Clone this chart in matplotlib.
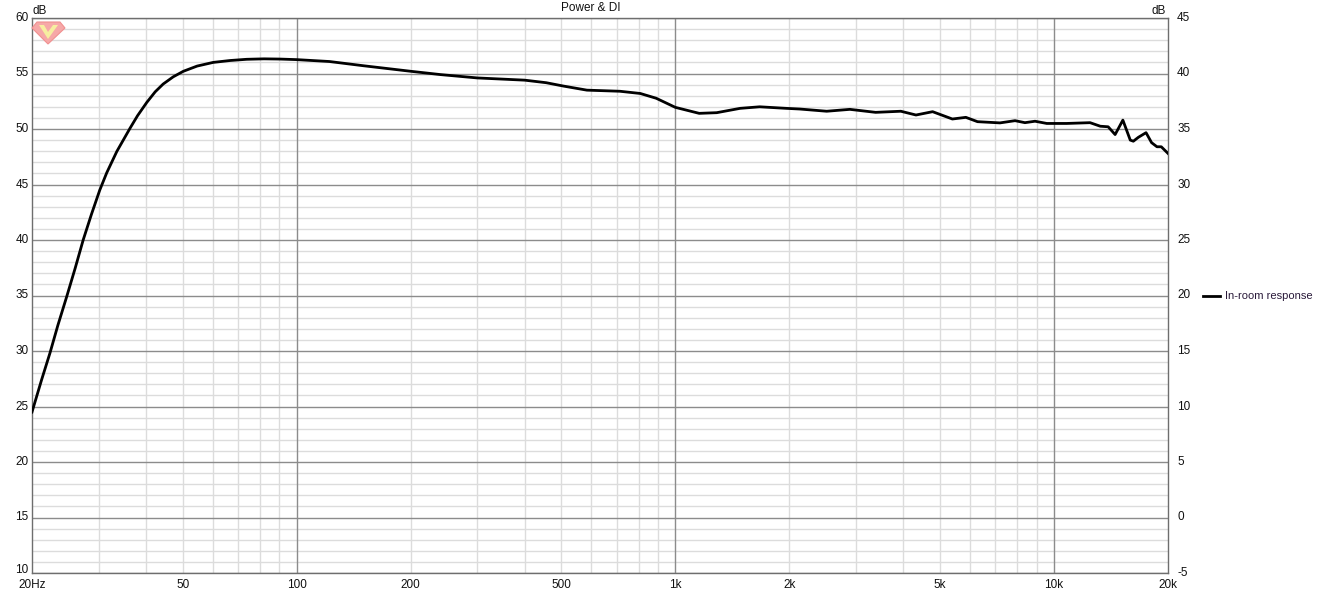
import matplotlib
matplotlib.use("Agg")
import matplotlib.pyplot as plt
from matplotlib.patches import Polygon
from matplotlib.ticker import FixedLocator, NullFormatter

# ── Data (in-room response, dB) ───────────────────────────────────────────────
freq_hz = [20.0, 21.2, 22.3, 23.4, 24.7, 26.0, 27.3, 28.7, 30.2, 31.5, 33.5,
           36.3, 38.0, 40.2, 42.3, 44.4, 47.2, 50.2, 54.6, 60.2, 66.7, 73.8,
           82, 90.4, 100, 122, 150, 200, 240, 300, 400, 456, 506, 584, 714,
           808, 890, 1000, 1156, 1286, 1482, 1670, 1964, 2130, 2510, 2890,
           3380, 3940, 4320, 4780, 5390, 5850, 6280, 7200, 7890, 8380, 8910,
           9570, 10800, 12450, 13250, 13900, 14500, 15200, 15900, 16200,
           16700, 17500, 18100, 18700, 19200, 20000]
in_room_db = [24.5, 27.4, 29.8, 32.3, 34.9, 37.45, 40.0, 42.3, 44.5, 46.05, 47.98,
              50.07, 51.2, 52.4, 53.35, 54.05, 54.7, 55.2, 55.67, 56.0, 56.17, 56.28,
              56.32, 56.3, 56.25, 56.08, 55.7, 55.2, 54.9, 54.6, 54.4, 54.17, 53.87, 53.5, 53.4,
              53.2, 52.77, 51.95, 51.41, 51.47, 51.86, 52.0, 51.86, 51.8, 51.6, 51.77,
              51.5, 51.6, 51.26, 51.56, 50.9, 51.05, 50.66, 50.55, 50.75, 50.57, 50.7,
              50.5, 50.5, 50.57, 50.25, 50.2, 49.5, 50.8, 49.0, 48.9,
              49.25, 49.67, 48.77, 48.4, 48.4, 47.8]

x_major = [100, 1000, 10000]
x_minor = [30, 40, 50, 60, 70, 80, 90, 200, 300, 400, 500, 600, 700, 800, 900,
           2000, 3000, 4000, 5000, 6000, 7000, 8000, 9000]
x_label_pos = [20, 50, 100, 200, 500, 1000, 2000, 5000, 10000, 20000]
x_label_txt = ["20Hz", "50", "100", "200", "500", "1k", "2k", "5k", "10k", "20k"]
left_ticks = [10, 15, 20, 25, 30, 35, 40, 45, 50, 55, 60]
right_offset = 15  # right axis = left - 15

W, H = 1320, 592
fig = plt.figure(figsize=(W / 100, H / 100), dpi=100)
ax = fig.add_axes([32 / W, 1 - 573 / H, (1168 - 32) / W, (573 - 18) / H])

ax.set_xscale("log")
ax.set_xlim(20, 20000)
ax.set_ylim(10, 60)

# grid, drawn by hand so major/minor shades match
for v in range(10, 61):
    if v % 5:
        ax.axhline(v, color="#dcdcdc", lw=1.0, zorder=0)
for v in left_ticks:
    ax.axhline(v, color="#8c8c8c", lw=1.0, zorder=1)
for f in x_minor:
    ax.axvline(f, color="#dcdcdc", lw=1.0, zorder=0)
for f in x_major:
    ax.axvline(f, color="#8c8c8c", lw=1.0, zorder=1)

ax.plot(freq_hz, in_room_db, color="black", lw=2.0, zorder=3,
        solid_joinstyle="round")

for s in ax.spines.values():
    s.set_color("#6e6e6e")
    s.set_linewidth(1.0)

ax.tick_params(length=0)
ax.xaxis.set_major_locator(FixedLocator([]))
ax.xaxis.set_minor_locator(FixedLocator([]))
ax.xaxis.set_minor_formatter(NullFormatter())
ax.set_yticks([])

font = dict(family="Liberation Sans", fontsize=8.5, color="#111111")
trans_x = ax.get_xaxis_transform()
for f, t in zip(x_label_pos, x_label_txt):
    ax.text(f, -0.011, t, transform=trans_x, ha="center", va="top", **font)

trans_y = ax.get_yaxis_transform()
for v in left_ticks:
    ax.text(-0.003, v + (0.25 if v == 10 else 0), str(v), transform=trans_y,
            ha="right", va="center", **font)
    ax.text(1.008, v, str(v - right_offset), transform=trans_y, ha="left",
            va="center", **font)

fig.text(40 / W, 1 - 11 / H, "dB", ha="center", va="center", **font)
fig.text(1159 / W, 1 - 11 / H, "dB", ha="center", va="center", **font)
fig.text(591 / W, 1 - 8 / H, "Power & DI", ha="center", va="center", **font)

# legend entry
fig.lines.append(plt.Line2D([1203 / W, 1220 / W], [1 - 296 / H, 1 - 296 / H],
                            transform=fig.transFigure, color="black", lw=2.0))
fig.text(1225 / W, 1 - 296 / H, "In-room response", ha="left", va="center",
         family="Liberation Sans", fontsize=8, color="#2a1a3a")

# little gem logo in the corner
def px(pts):
    return [(x / W, 1 - y / H) for x, y in pts]

fig.patches.append(Polygon(px([(37, 22), (60, 22), (65, 28), (48, 44), (32, 28)]),
                           closed=True, transform=fig.transFigure,
                           facecolor="#f6a8a8", edgecolor="#f09090", lw=0.8))
fig.patches.append(Polygon(px([(39, 25), (58, 25), (48, 39)]), closed=True,
                           transform=fig.transFigure, facecolor="#f6eea0",
                           edgecolor="none"))
fig.patches.append(Polygon(px([(44, 25), (53, 25), (48, 32)]), closed=True,
                           transform=fig.transFigure, facecolor="#f6a8a8",
                           edgecolor="none"))

fig.savefig("out.png", dpi=100)
